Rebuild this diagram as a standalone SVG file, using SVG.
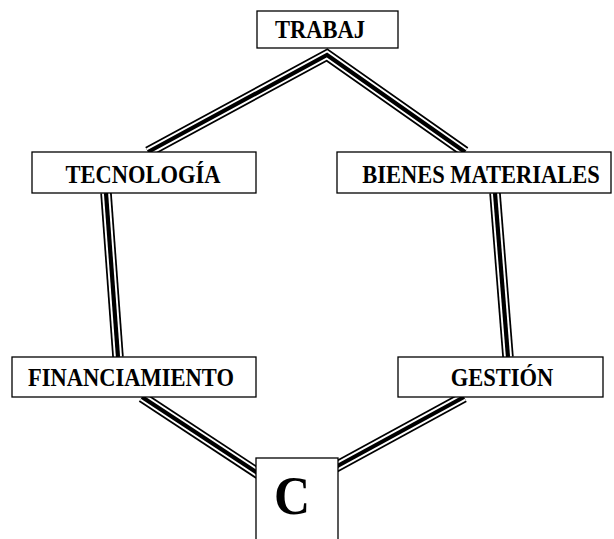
<svg xmlns="http://www.w3.org/2000/svg" width="614" height="539" viewBox="0 0 614 539">
  <style>
    .box { fill: #ffffff; stroke: #000000; stroke-width: 1.3; }
    .lbl { font-family: "Liberation Serif", "Times New Roman", serif; font-weight: bold; font-size: 22.5px; fill: #000000; text-anchor: middle; }
    .big { font-size: 50px; }
    .rail-outer { fill: none; stroke: #000000; stroke-width: 11.5; stroke-linejoin: miter; stroke-miterlimit: 10; }
    .rail-gap { fill: none; stroke: #ffffff; stroke-width: 8; stroke-linejoin: miter; stroke-miterlimit: 10; }
    .rail-core { fill: none; stroke: #000000; stroke-width: 4.2; stroke-linejoin: miter; stroke-miterlimit: 10; }
  </style>
  <defs>
    <!-- ring of triple-line connectors -->
    <path id="ring-top" d="M148,152 L327,55 L465,152"/>
    <path id="ring-left" d="M106,193 L118,357"/>
    <path id="ring-right" d="M495,193 L508,357"/>
    <path id="ring-bl" d="M142,397 L262,476"/>
    <path id="ring-br" d="M464,397 L332,469"/>
  </defs>
  <rect width="614" height="539" fill="#ffffff"/>

  <g id="connectors">
    <use href="#ring-top" class="rail-outer"/>
    <use href="#ring-top" class="rail-gap"/>
    <use href="#ring-top" class="rail-core"/>
    <use href="#ring-left" class="rail-outer"/>
    <use href="#ring-left" class="rail-gap"/>
    <use href="#ring-left" class="rail-core"/>
    <use href="#ring-right" class="rail-outer"/>
    <use href="#ring-right" class="rail-gap"/>
    <use href="#ring-right" class="rail-core"/>
    <use href="#ring-bl" class="rail-outer"/>
    <use href="#ring-bl" class="rail-gap"/>
    <use href="#ring-bl" class="rail-core"/>
    <use href="#ring-br" class="rail-outer"/>
    <use href="#ring-br" class="rail-gap"/>
    <use href="#ring-br" class="rail-core"/>
  </g>

  <g id="node-trabaj">
    <rect class="box" x="257" y="11" width="141" height="37"/>
    <text class="lbl" transform="translate(320,38) scale(1,1.08)">TRABAJ</text>
  </g>
  <g id="node-tecnologia">
    <rect class="box" x="32" y="152" width="224" height="41"/>
    <text class="lbl" transform="translate(143,183) scale(1,1.08)">TECNOLOGÍA</text>
  </g>
  <g id="node-bienes">
    <rect class="box" x="337" y="152" width="274" height="41"/>
    <text class="lbl" transform="translate(481,183) scale(1,1.08)">BIENES MATERIALES</text>
  </g>
  <g id="node-financiamiento">
    <rect class="box" x="12" y="357" width="244" height="40"/>
    <text class="lbl" transform="translate(131,386) scale(1,1.08)">FINANCIAMIENTO</text>
  </g>
  <g id="node-gestion">
    <rect class="box" x="398" y="357" width="205" height="40"/>
    <text class="lbl" transform="translate(502,386) scale(1,1.08)">GESTIÓN</text>
  </g>
  <g id="node-c">
    <rect class="box" x="256" y="458" width="82" height="90"/>
    <text class="lbl big" transform="translate(292,514) scale(1,1.08)">C</text>
  </g>
</svg>
